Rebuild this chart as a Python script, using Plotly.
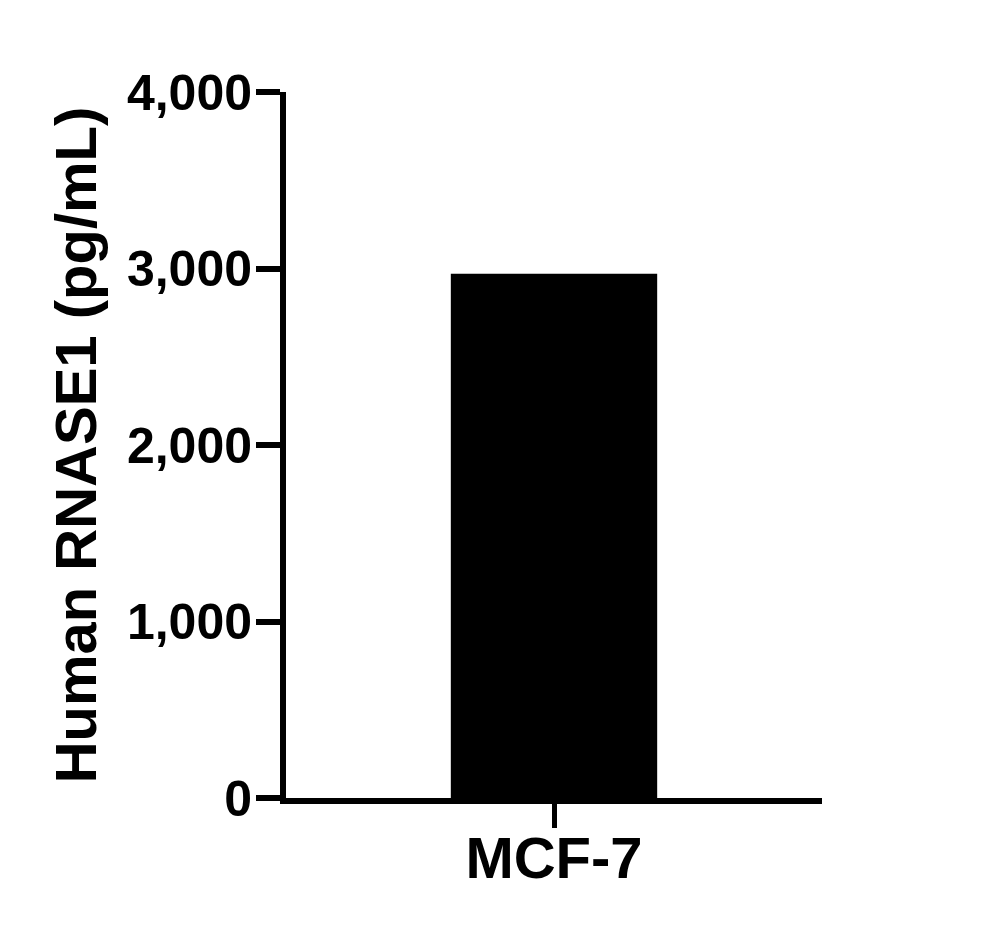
import plotly.graph_objects as go

# Data
cell_lines = ["MCF-7"]
rnase1_pg_ml = [2970]
y_ticks = [0, 1000, 2000, 3000, 4000]

FONT = "Liberation Sans, Arial, sans-serif"

fig = go.Figure()

fig.add_trace(go.Bar(
    x=cell_lines,
    y=rnase1_pg_ml,
    width=0.385,
    marker=dict(color="black", line=dict(width=0)),
))

fig.update_layout(
    width=998,
    height=934,
    margin=dict(l=278, r=184, t=84, b=144),
    paper_bgcolor="white",
    plot_bgcolor="white",
    showlegend=False,
    font=dict(family=FONT, color="black", weight="bold"),
    xaxis=dict(
        range=[-0.5, 0.5],
        showline=True, linecolor="black", linewidth=6,
        ticks="outside", ticklen=24, tickwidth=5, tickcolor="black",
        tickfont=dict(family=FONT, size=58, weight="bold"),
        ticklabelstandoff=-20,
        showgrid=False, zeroline=False,
    ),
    yaxis=dict(
        range=[0, 4000],
        tickvals=y_ticks,
        tickformat=",",
        showline=True, linecolor="black", linewidth=6,
        ticks="outside", ticklen=24, tickwidth=6, tickcolor="black",
        tickfont=dict(family=FONT, size=50, weight="bold"),
        ticklabelstandoff=-6,
        showgrid=False, zeroline=False,
        title=dict(text="Human RNASE1 (pg/mL)",
                   font=dict(family=FONT, size=58, weight="bold"),
                   standoff=14),
    ),
)

fig.write_html("out.html")
